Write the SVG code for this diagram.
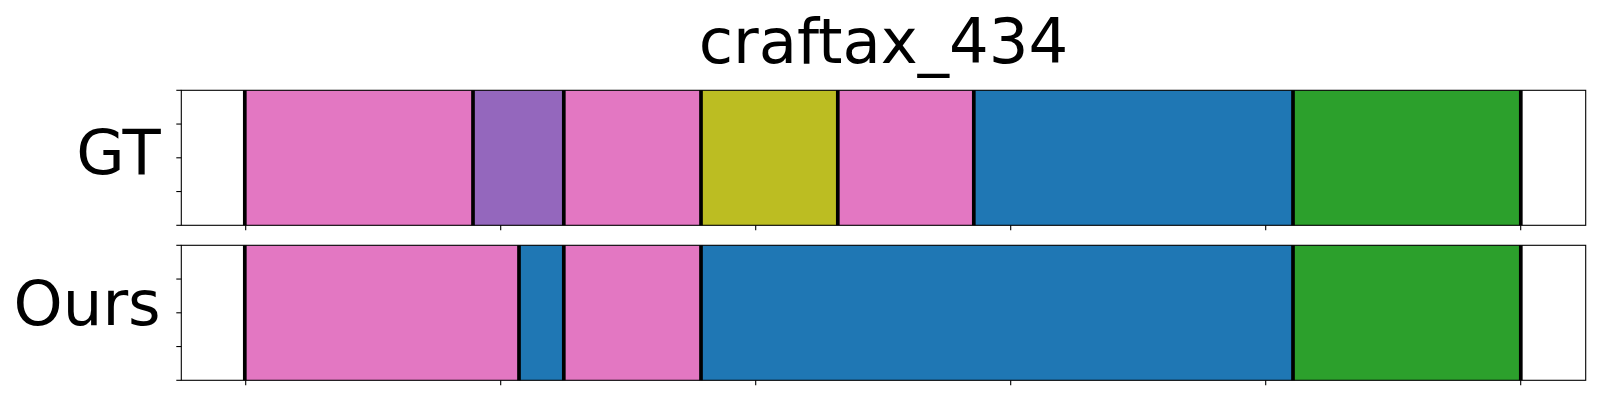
<svg xmlns="http://www.w3.org/2000/svg" width="1600" height="400" viewBox="0 0 1600 400">
  <style>
    .txt { font-family: "DejaVu Sans", "Liberation Sans", sans-serif; font-size: 62.5px; fill: #000; }
    .pink { fill: #e377c2; }
    .purple { fill: #9467bd; }
    .olive { fill: #bcbd22; }
    .blue { fill: #1f77b4; }
    .green { fill: #2ca02c; }
    .frame { fill: none; stroke: #000; stroke-width: 1.1; }
    .tick { stroke: #000; stroke-width: 1.1; }
    .bnd { stroke: #000; stroke-width: 3.7; }
  </style>
  <rect width="1600" height="400" fill="#fff"/>
  <text id="title" class="txt" x="883.5" y="62.7" text-anchor="middle">craftax_434</text>

  <g id="panel-gt">
    <text class="txt" x="160.7" y="174.3" text-anchor="end">GT</text>
    <rect class="pink" x="244.8" y="90.3" width="228.2" height="135"/>
    <rect class="purple" x="473" y="90.3" width="90.8" height="135"/>
    <rect class="pink" x="563.8" y="90.3" width="137.2" height="135"/>
    <rect class="olive" x="701" y="90.3" width="136.8" height="135"/>
    <rect class="pink" x="837.8" y="90.3" width="136" height="135"/>
    <rect class="blue" x="973.8" y="90.3" width="319.2" height="135"/>
    <rect class="green" x="1293" y="90.3" width="227.8" height="135"/>
    <g id="gt-boundaries">
      <line class="bnd" x1="244.8" y1="90.3" x2="244.8" y2="225.3"/>
      <line class="bnd" x1="473" y1="90.3" x2="473" y2="225.3"/>
      <line class="bnd" x1="563.8" y1="90.3" x2="563.8" y2="225.3"/>
      <line class="bnd" x1="701" y1="90.3" x2="701" y2="225.3"/>
      <line class="bnd" x1="837.8" y1="90.3" x2="837.8" y2="225.3"/>
      <line class="bnd" x1="973.8" y1="90.3" x2="973.8" y2="225.3"/>
      <line class="bnd" x1="1293" y1="90.3" x2="1293" y2="225.3"/>
      <line class="bnd" x1="1520.8" y1="90.3" x2="1520.8" y2="225.3"/>
    </g>
    <rect class="frame" x="181.3" y="90.3" width="1404.4" height="135"/>
    <g id="gt-ticks">
      <line class="tick" x1="176.3" y1="90.3" x2="181.3" y2="90.3"/>
      <line class="tick" x1="176.3" y1="124.05" x2="181.3" y2="124.05"/>
      <line class="tick" x1="176.3" y1="157.8" x2="181.3" y2="157.8"/>
      <line class="tick" x1="176.3" y1="191.55" x2="181.3" y2="191.55"/>
      <line class="tick" x1="176.3" y1="225.3" x2="181.3" y2="225.3"/>
      <line class="tick" x1="245.7" y1="225.3" x2="245.7" y2="230.3"/>
      <line class="tick" x1="500.7" y1="225.3" x2="500.7" y2="230.3"/>
      <line class="tick" x1="755.7" y1="225.3" x2="755.7" y2="230.3"/>
      <line class="tick" x1="1010.7" y1="225.3" x2="1010.7" y2="230.3"/>
      <line class="tick" x1="1265.7" y1="225.3" x2="1265.7" y2="230.3"/>
      <line class="tick" x1="1520.7" y1="225.3" x2="1520.7" y2="230.3"/>
    </g>
  </g>

  <g id="panel-ours">
    <text class="txt" x="160.7" y="325.3" text-anchor="end">Ours</text>
    <rect class="pink" x="244.8" y="245.3" width="274.2" height="135"/>
    <rect class="blue" x="519" y="245.3" width="44.8" height="135"/>
    <rect class="pink" x="563.8" y="245.3" width="137.2" height="135"/>
    <rect class="blue" x="701" y="245.3" width="592" height="135"/>
    <rect class="green" x="1293" y="245.3" width="227.8" height="135"/>
    <g id="ours-boundaries">
      <line class="bnd" x1="244.8" y1="245.3" x2="244.8" y2="380.3"/>
      <line class="bnd" x1="519" y1="245.3" x2="519" y2="380.3"/>
      <line class="bnd" x1="563.8" y1="245.3" x2="563.8" y2="380.3"/>
      <line class="bnd" x1="701" y1="245.3" x2="701" y2="380.3"/>
      <line class="bnd" x1="1293" y1="245.3" x2="1293" y2="380.3"/>
      <line class="bnd" x1="1520.8" y1="245.3" x2="1520.8" y2="380.3"/>
    </g>
    <rect class="frame" x="181.3" y="245.3" width="1404.4" height="135"/>
    <g id="ours-ticks">
      <line class="tick" x1="176.3" y1="245.3" x2="181.3" y2="245.3"/>
      <line class="tick" x1="176.3" y1="279.05" x2="181.3" y2="279.05"/>
      <line class="tick" x1="176.3" y1="312.8" x2="181.3" y2="312.8"/>
      <line class="tick" x1="176.3" y1="346.55" x2="181.3" y2="346.55"/>
      <line class="tick" x1="176.3" y1="380.3" x2="181.3" y2="380.3"/>
      <line class="tick" x1="245.7" y1="380.3" x2="245.7" y2="385.3"/>
      <line class="tick" x1="500.7" y1="380.3" x2="500.7" y2="385.3"/>
      <line class="tick" x1="755.7" y1="380.3" x2="755.7" y2="385.3"/>
      <line class="tick" x1="1010.7" y1="380.3" x2="1010.7" y2="385.3"/>
      <line class="tick" x1="1265.7" y1="380.3" x2="1265.7" y2="385.3"/>
      <line class="tick" x1="1520.7" y1="380.3" x2="1520.7" y2="385.3"/>
    </g>
  </g>
</svg>
